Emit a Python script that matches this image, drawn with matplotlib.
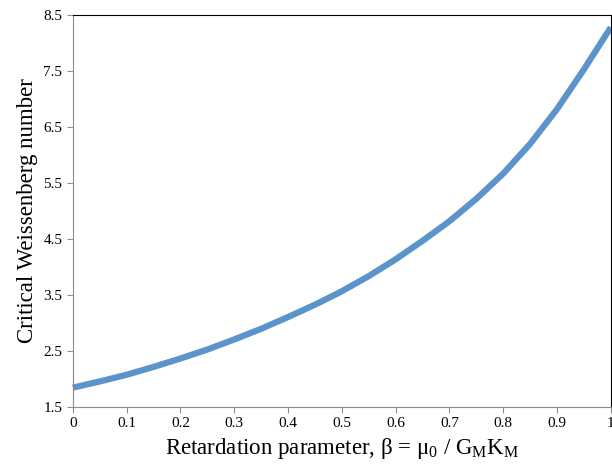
import numpy as np
import matplotlib.pyplot as plt

plt.rcParams['font.family'] = ['Liberation Serif', 'DejaVu Serif']
plt.rcParams['mathtext.fontset'] = 'custom'
plt.rcParams['mathtext.rm'] = 'Liberation Serif'
plt.rcParams['mathtext.it'] = 'Liberation Serif:italic'

# valores
beta = [0, 0.05, 0.1, 0.15, 0.2, 0.25, 0.3, 0.35, 0.4, 0.45, 0.5,
        0.55, 0.6, 0.65, 0.7, 0.75, 0.8, 0.85, 0.9, 0.95, 1.0]
wi_crit = [1.84, 1.95, 2.07, 2.21, 2.36, 2.52, 2.70, 2.89, 3.10, 3.32, 3.56,
           3.83, 4.13, 4.46, 4.81, 5.21, 5.66, 6.19, 6.81, 7.52, 8.27]

xticks = [0, 0.1, 0.2, 0.3, 0.4, 0.5, 0.6, 0.7, 0.8, 0.9, 1]
xlabels = ["0", "0.1", "0.2", "0.3", "0.4", "0.5", "0.6", "0.7", "0.8", "0.9", "1"]
yticks = [1.5, 2.5, 3.5, 4.5, 5.5, 6.5, 7.5, 8.5]

fig = plt.figure(figsize=(6.12, 4.68), dpi=100)
ax = fig.add_axes([0.119, 0.131, 0.879, 0.838])

ax.plot(beta, wi_crit, color="#5b93cb", lw=4.5, solid_capstyle="butt",
        solid_joinstyle="round", clip_on=False)

ax.set_xlim(0, 1)
ax.set_ylim(1.5, 8.5)
ax.set_xticks(xticks)
ax.set_xticklabels(xlabels)
ax.set_yticks(yticks)
ax.set_yticklabels(["%.1f" % v for v in yticks])

for s in ["left", "bottom"]:
    ax.spines[s].set_color("#8c8c8c")
for s in ["top", "right"]:
    ax.spines[s].set_color("black")
ax.tick_params(direction="out", length=4, color="#8c8c8c", labelsize=11)

ax.set_xlabel(r"Retardation parameter, β = μ$_0$ / G$_\mathrm{M}$K$_\mathrm{M}$", fontsize=16.5)
ax.set_ylabel("Critical Weissenberg number", fontsize=16.5)

fig.savefig("out.png", dpi=100)
